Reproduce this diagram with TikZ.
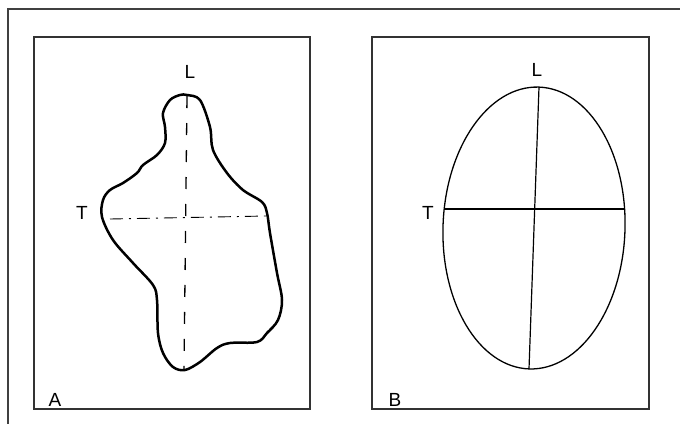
\documentclass[tikz,border=0pt]{standalone}
\usepackage{fontspec}
\setmainfont{Liberation Sans}
\begin{document}
\begin{tikzpicture}[x=1pt,y=-1pt,
  panel/.style={draw=black!80,line width=1.4pt},
  lbl/.style={inner sep=0pt,font=\fontsize{19}{19}\selectfont},
  blob/.style={draw=black,line width=2.5pt,line join=round},
  axisdash/.style={line width=1.3pt,dash pattern=on 12pt off 15pt},
  axisdashdot/.style={line width=0.9pt,dash pattern=on 13pt off 6pt on 2pt off 6pt},
  oval/.style={draw=black,line width=1.3pt}]
\useasboundingbox (0,0) rectangle (680,424);
\fill[white] (0,0) rectangle (680,424);
% outer frame (cropped)
\draw[draw=black!75,line width=2.2pt] (680,9) -- (8,9) -- (8,424);
% panel A
\draw[panel] (34,37) rectangle (310,409);
\draw[blob] plot[smooth cycle,tension=0.55] coordinates {
 (187,95) (200,100) (210,127) (213,150) (227,173) (243,190) (262,202) (267,213)
 (270,233) (277,273) (282,300) (278,320) (267,333) (257,342) (230,343) (217,348)
 (200,362) (185,370) (173,367) (163,353) (158,333) (157,300) (153,285) (133,263)
 (113,240) (102,217) (103,200) (110,190) (123,183) (137,173) (143,165) (157,155)
 (165,143) (165,127) (163,113) (170,100) (180,95)};
\coordinate (aTop) at (187,96);
\coordinate (aBot) at (184,370);
\coordinate (aLeft) at (110,219);
\coordinate (aRight) at (266,216);
\draw[axisdash] (aTop) -- (aBot);
\draw[axisdashdot] (aLeft) -- (aRight);
\node[lbl] (AL) at (190,72) {L};
\node[lbl] (AT) at (82,213) {T};
\node[lbl] (AA) at (55,400) {A};
% panel B
\draw[panel] (372,37) rectangle (649,409);
\draw[oval,rotate around={-2:(534,228)}] (534,228) ellipse [x radius=91,y radius=141];
\coordinate (bTop) at (539,87);
\coordinate (bBot) at (529,369);
\coordinate (bLeft) at (444,209);
\coordinate (bRight) at (625,209);
\draw[line width=1.2pt] (bTop) -- (bBot);
\draw[line width=1.2pt] (bLeft) -- (bRight);
\node[lbl] (BL) at (537,70) {L};
\node[lbl] (BT) at (428,213) {T};
\node[lbl] (BB) at (395,400) {B};
\end{tikzpicture}
\end{document}
